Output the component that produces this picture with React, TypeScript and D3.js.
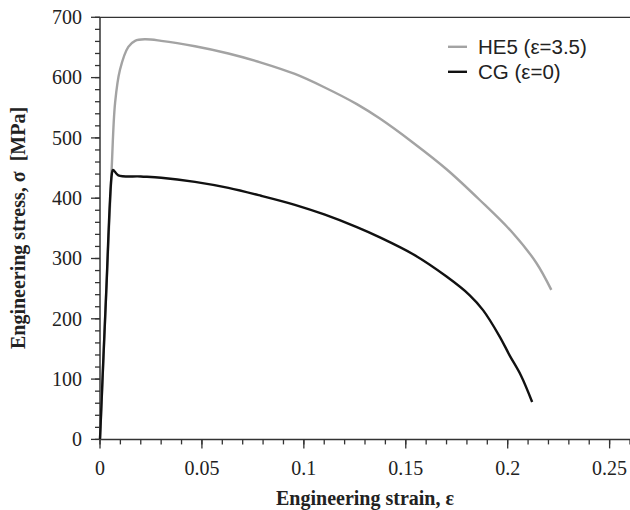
import React from 'react';
import * as d3 from 'd3';

const width = 630;
const height = 510;
const margin = { top: 17.3, right: 0, left: 100, bottom: 70.6 };

// HE5 (ε=3.5)
const he5Strain = [0, 0.002, 0.004, 0.0057, 0.0074, 0.0098, 0.0139, 0.0172, 0.022, 0.03, 0.0466, 0.063, 0.079, 0.0956, 0.11, 0.126, 0.1373, 0.1536, 0.17, 0.1863, 0.2026, 0.214, 0.2214];
const he5Stress = [0, 160, 320, 447, 558, 613, 651, 661, 663.5, 661, 652, 640, 625, 606, 584, 556, 532, 492, 448, 397, 342, 293, 248];

// CG (ε=0)
const cgStrain = [0, 0.003, 0.0058, 0.0064, 0.009, 0.02, 0.03, 0.0466, 0.063, 0.079, 0.0956, 0.11, 0.126, 0.1373, 0.1536, 0.17, 0.1814, 0.188, 0.196, 0.201, 0.2065, 0.212];
const cgStress = [0, 240, 440, 447, 438, 436, 434, 427, 417, 404, 389, 373, 352, 335, 307, 270, 239, 214, 171, 139, 106, 62];

const xMajor = [0, 0.05, 0.1, 0.15, 0.2, 0.25];
const xMajorLabels = ['0', '0.05', '0.1', '0.15', '0.2', '0.25'];
const xMinor = d3.range(0, 27).map(i => i / 100);
const yMajor = [0, 100, 200, 300, 400, 500, 600, 700];
const yMinor = d3.range(0, 36).map(i => i * 20);

const series = [
  { name: 'HE5 (\u03b5=3.5)', x: he5Strain, y: he5Stress, color: '#a3a3a3' },
  { name: 'CG (\u03b5=0)', x: cgStrain, y: cgStress, color: '#111111' },
];

const serif = '"Liberation Serif", "Times New Roman", serif';
const sans = '"Liberation Sans", Arial, sans-serif';

const App = () => {
  const innerW = width - margin.left - margin.right;
  const innerH = height - margin.top - margin.bottom;

  const xScale = d3.scaleLinear().domain([0, 0.26]).range([0, innerW]);
  const yScale = d3.scaleLinear().domain([0, 700]).range([innerH, 0]);

  const lineGen = d3
    .line<[number, number]>()
    .x(d => xScale(d[0]))
    .y(d => yScale(d[1]))
    .curve(d3.curveCatmullRom.alpha(0.5));

  const axisColor = '#333';

  return (
    <svg width={width} height={height} style={{ position: 'absolute', left: 0, top: 0, background: '#fff' }}>
      <g transform={`translate(${margin.left},${margin.top})`}>
        {/* frame: left, bottom, top */}
        <line x1={0} x2={0} y1={0} y2={innerH} stroke={axisColor} strokeWidth={1.5} />
        <line x1={0} x2={innerW} y1={innerH} y2={innerH} stroke={axisColor} strokeWidth={1.5} />
        <line x1={0} x2={innerW} y1={0} y2={0} stroke={axisColor} strokeWidth={1.2} />

        {xMinor.map(v => (
          <line key={'xm' + v} x1={xScale(v)} x2={xScale(v)} y1={innerH} y2={innerH + 5} stroke={axisColor} strokeWidth={1.3} />
        ))}
        {xMajor.map((v, i) => (
          <g key={'xM' + v} transform={`translate(${xScale(v)},${innerH})`}>
            <line y2={9} stroke={axisColor} strokeWidth={1.3} />
            <text y={36} textAnchor="middle" fontFamily={serif} fontSize={20} fill="#222">
              {xMajorLabels[i]}
            </text>
          </g>
        ))}

        {yMinor.map(v => (
          <line key={'ym' + v} x1={-5} x2={0} y1={yScale(v)} y2={yScale(v)} stroke={axisColor} strokeWidth={1.3} />
        ))}
        {yMajor.map(v => (
          <g key={'yM' + v} transform={`translate(0,${yScale(v)})`}>
            <line x1={-9} x2={0} stroke={axisColor} strokeWidth={1.3} />
            <text x={-18} dy="0.34em" textAnchor="end" fontFamily={serif} fontSize={20} fill="#222">
              {v}
            </text>
          </g>
        ))}

        {series.map(s => (
          <path
            key={s.name}
            d={lineGen(s.x.map((x, i) => [x, s.y[i]] as [number, number])) || ''}
            fill="none"
            stroke={s.color}
            strokeWidth={2.4}
            strokeLinejoin="round"
          />
        ))}

        {/* legend */}
        {series.map((s, i) => (
          <g key={'lg' + s.name} transform={`translate(348,${29.5 + i * 25})`}>
            <line x1={0} x2={19} stroke={s.color} strokeWidth={2.4} />
            <text x={30} dy="0.36em" fontFamily={sans} fontSize={20.5} fill="#222">
              {s.name}
            </text>
          </g>
        ))}
      </g>

      <text x={365} y={505} textAnchor="middle" fontFamily={serif} fontWeight="bold" fontSize={20} fill="#222">
        Engineering strain, {'\u03b5'}
      </text>
      <text
        transform={`translate(25,228) rotate(-90)`}
        textAnchor="middle"
        fontFamily={serif}
        fontWeight="bold"
        fontSize={20}
        fill="#222"
        style={{ whiteSpace: 'pre' }}
      >
        {'Engineering stress, \u03c3  [MPa]'}
      </text>
    </svg>
  );
};

export default App;
